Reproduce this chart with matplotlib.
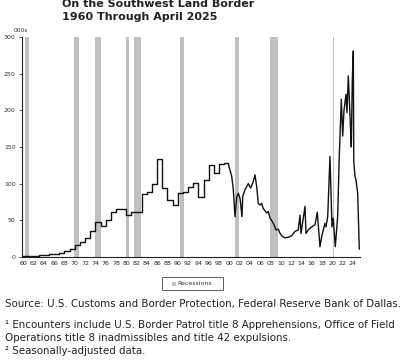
import numpy as np
import matplotlib.pyplot as plt
from matplotlib.patches import Rectangle

# annual (fiscal year) values, thousands per month
step_years = list(range(1960, 2000))
step_vals = [1.2, 1.4, 1.8, 2.2, 3.0, 3.5, 4.5, 6, 8, 11,
             16, 21, 26, 36, 48, 42, 51, 61, 65, 66,
             57, 61, 62, 86, 88, 99, 134, 94, 78, 71,
             87, 89, 95, 101, 82, 105, 125, 114, 127, 128]

# monthly data from late 1999 on
m_dates = [1999.81, 2000.47, 2000.78, 2001.11, 2001.44, 2001.75, 2002.08, 2002.47, 2002.6,
           2003.05, 2003.69, 2004.16, 2004.66, 2004.99, 2005.32, 2005.63, 2005.96, 2006.29,
           2006.6, 2007.26, 2007.57, 2007.9, 2008.2, 2008.54, 2008.8, 2009.07, 2009.51, 2009.8,
           2010.17, 2010.81, 2011.46, 2012.12, 2012.76, 2013.4, 2013.73, 2013.92, 2014.37,
           2014.7, 2014.89, 2015.34, 2016.0, 2016.64, 2017.09, 2017.61, 2017.94, 2018.58,
           2018.78, 2019.11, 2019.55, 2019.94, 2020.19, 2020.58, 2021.04, 2021.36, 2021.75,
           2022.02, 2022.27, 2022.66, 2022.85, 2023.11, 2023.5, 2023.69, 2023.88, 2024.08,
           2024.17, 2024.41, 2024.6, 2024.93, 2025.24]
m_vals = [127, 110, 92, 55, 82, 87, 80, 55, 82,
          92, 100, 94, 103, 112, 96, 73, 71, 73,
          66, 60, 62, 53, 50, 46, 42, 37, 38, 33,
          29, 26, 27, 29, 35, 37, 57, 32, 53,
          69, 32, 37, 41, 44, 61, 14, 28, 46,
          41, 55, 137, 41, 53, 14, 55, 138, 215,
          165, 200, 222, 197, 247, 183, 150, 240, 281,
          130, 110, 105, 87, 11]

# NBER recessions
rec_start = [1960.25, 1969.92, 1973.83, 1980.0, 1981.5, 1990.5, 2001.17, 2007.92, 2020.08]
rec_end = [1961.08, 1970.83, 1975.17, 1980.5, 1982.83, 1991.17, 2001.83, 2009.42, 2020.25]

xticks = list(range(1960, 2025, 2))
xlabels = ['%02d' % (y % 100) for y in xticks]

fig = plt.figure(figsize=(4.05, 3.64), dpi=100)
ax = fig.add_axes([22 / 405, 107 / 364, 338 / 405, 220 / 364])

for s, e in zip(rec_start, rec_end):
    ax.axvspan(s, e, color='#c0c0c0', lw=0, zorder=1)

sx = step_years + [m_dates[0]]
sy = step_vals + [step_vals[-1]]
ax.plot(sx, sy, drawstyle='steps-post', color='#111111', lw=1.0, zorder=3)
ax.plot(m_dates, m_vals, color='#111111', lw=1.0, zorder=3)

ax.set_xlim(1959.75, 2025.38)
ax.set_ylim(0, 300)
ax.set_yticks([0, 50, 100, 150, 200, 250, 300])
ax.set_xticks(xticks)
ax.set_xticklabels(xlabels)
for sp in ['top', 'right']:
    ax.spines[sp].set_visible(False)
for sp in ['left', 'bottom']:
    ax.spines[sp].set_linewidth(0.8)
    ax.spines[sp].set_color('#222222')
ax.tick_params(axis='y', labelsize=4.5, length=2.5, width=0.6, pad=2, colors='#333333')
ax.tick_params(axis='x', labelsize=4.5, length=0, pad=3, colors='#222222')

fig.text(14 / 405, 1 - 30 / 364, '000s', fontsize=4.2, color='#333333', ha='left', va='center')

# legend box drawn by hand
fig.patches.append(Rectangle((162 / 405, 1 - 290 / 364), 61 / 405, 13 / 364,
                             transform=fig.transFigure, facecolor='white',
                             edgecolor='#444444', lw=0.6))
fig.patches.append(Rectangle((172 / 405, 1 - 285.5 / 364), 4 / 405, 4 / 364,
                             transform=fig.transFigure, facecolor='#c0c0c0', lw=0))
fig.text(177 / 405, 1 - 283.5 / 364, 'Recessions', fontsize=4.5, color='#333333',
         ha='left', va='center')

fig.text(62 / 405, 1 - 4 / 364, 'On the Southwest Land Border', fontsize=8, fontweight='bold',
         color='#222222', ha='left', va='center')
fig.text(62 / 405, 1 - 17 / 364, '1960 Through April 2025', fontsize=8, fontweight='bold',
         color='#222222', ha='left', va='center')

fs = 7.4
fig.text(5 / 405, 1 - 304 / 364,
         'Source: U.S. Customs and Border Protection, Federal Reserve Bank of Dallas.',
         fontsize=fs, color='#222222', ha='left', va='center')
fig.text(5 / 405, 1 - 325 / 364,
         '\u00b9 Encounters include U.S. Border Patrol title 8 Apprehensions, Office of Field',
         fontsize=fs, color='#222222', ha='left', va='center')
fig.text(5 / 405, 1 - 338 / 364,
         'Operations title 8 inadmissibles and title 42 expulsions.',
         fontsize=fs, color='#222222', ha='left', va='center')
fig.text(5 / 405, 1 - 351 / 364, '\u00b2 Seasonally-adjusted data.',
         fontsize=fs, color='#222222', ha='left', va='center')

fig.savefig('out.png', dpi=100)
